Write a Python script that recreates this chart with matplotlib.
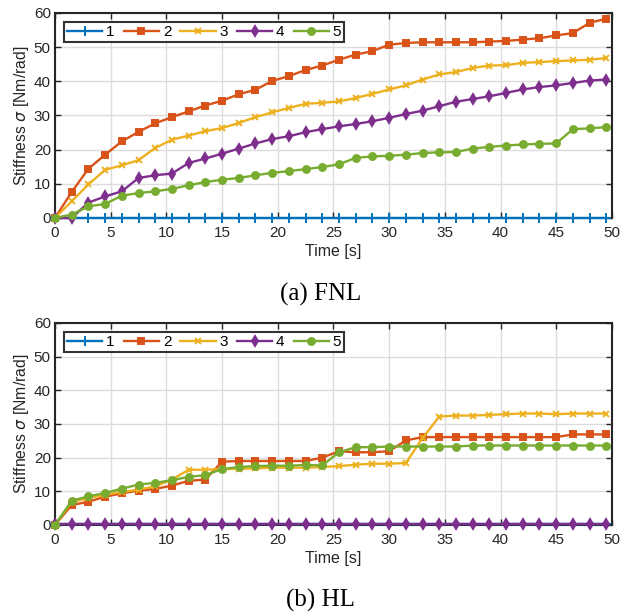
import numpy as np
import matplotlib.pyplot as plt

# --- data ---
time_s = [0, 1.5, 3, 4.5, 6, 7.5, 9, 10.5, 12, 13.5, 15, 16.5, 18, 19.5, 21, 22.5,
          24, 25.5, 27, 28.5, 30, 31.5, 33, 34.5, 36, 37.5, 39, 40.5, 42, 43.5, 45,
          46.5, 48, 49.5]

# (a) FNL
fnl_1 = [0.0] * 34
fnl_2 = [0, 7.6, 14.4, 18.5, 22.4, 25.2, 27.7, 29.5, 31.2, 32.9, 34.3, 36.2, 37.5,
         40.1, 41.5, 43.3, 44.6, 46.3, 47.8, 48.8, 50.7, 51.2, 51.4, 51.4, 51.4,
         51.4, 51.6, 51.8, 52.2, 52.6, 53.4, 54.1, 57.1, 58.3]
fnl_3 = [0, 4.9, 9.8, 14.1, 15.4, 16.9, 20.5, 22.9, 24.1, 25.4, 26.3, 27.8, 29.5,
         30.9, 32.2, 33.4, 33.7, 34.1, 35.1, 36.3, 37.6, 38.8, 40.5, 42.0, 42.7,
         43.9, 44.6, 44.7, 45.4, 45.6, 45.9, 46.1, 46.3, 46.8]
fnl_4 = [0, 0, 4.5, 6.3, 7.8, 11.7, 12.5, 13.0, 16.1, 17.4, 18.8, 20.3, 21.8, 23.1,
         23.9, 25.1, 26.0, 26.8, 27.5, 28.3, 29.3, 30.4, 31.4, 32.7, 34.0, 34.8,
         35.6, 36.6, 37.6, 38.3, 38.8, 39.5, 40.2, 40.5]
fnl_5 = [0, 1.0, 3.4, 4.1, 6.5, 7.3, 7.8, 8.5, 9.6, 10.5, 11.2, 11.7, 12.5, 13.2,
         13.7, 14.3, 14.9, 15.7, 17.6, 18.0, 18.2, 18.5, 19.0, 19.2, 19.3, 20.3,
         20.8, 21.2, 21.5, 21.7, 21.8, 26.0, 26.2, 26.6]

# (b) HL
hl_1 = [0.2] * 34
hl_2 = [0, 5.9, 6.9, 8.4, 9.4, 10.2, 10.7, 11.7, 13.1, 13.5, 18.8, 19.0, 19.0, 19.0,
        19.0, 19.0, 20.0, 21.9, 21.6, 21.6, 21.9, 25.1, 26.1, 26.1, 26.1, 26.1,
        26.1, 26.1, 26.1, 26.1, 26.1, 26.9, 26.9, 26.9]
hl_3 = [0, 6.8, 8.0, 9.0, 9.8, 10.5, 11.5, 13.5, 16.4, 16.4, 16.6, 16.7, 16.8, 17.0,
        17.0, 17.0, 17.2, 17.5, 17.9, 18.2, 18.2, 18.4, 25.8, 32.2, 32.5, 32.5,
        32.7, 32.9, 33.1, 33.1, 32.9, 33.1, 33.1, 33.1]
hl_4 = [0.2] * 34
hl_5 = [0, 7.2, 8.5, 9.5, 10.8, 12.0, 12.5, 13.3, 14.3, 14.8, 16.6, 17.2, 17.5,
        17.6, 17.6, 17.8, 17.7, 21.6, 23.1, 23.1, 23.3, 23.3, 23.3, 23.3, 23.3,
        23.6, 23.6, 23.6, 23.6, 23.6, 23.6, 23.6, 23.6, 23.6]

labels = ['1', '2', '3', '4', '5']
colors = ['#0072BD', '#D95319', '#EDB120', '#7E2F8E', '#77AC30']
markers = ['+', 's', 'x', 'd', 'o']
msizes = [7, 5, 5, 5.5, 5]

plt.rcParams['font.family'] = ['Liberation Sans', 'DejaVu Sans']
plt.rcParams['mathtext.fontset'] = 'dejavusans'

fig = plt.figure(figsize=(6.35, 6.14), dpi=100)
ax_a = fig.add_axes([0.0866, 0.645, 0.877, 0.334])
ax_b = fig.add_axes([0.0866, 0.145, 0.877, 0.329])


def draw_panel(ax, series):
    for y, lab, c, m, ms in zip(series, labels, colors, markers, msizes):
        ax.plot(time_s, y, color=c, marker=m, markersize=ms, markeredgewidth=1.4,
                linewidth=1.7, label=lab, clip_on=False, zorder=3)
    ax.set_xlim(0, 50)
    ax.set_ylim(0, 60)
    ax.set_xticks(np.arange(0, 51, 5))
    ax.set_yticks(np.arange(0, 61, 10))
    ax.grid(True, color='#dcdcdc', linewidth=1.0)
    ax.set_axisbelow(True)
    ax.tick_params(direction='in', top=True, right=True, labelsize=11,
                   colors='#262626', length=4, width=1.0)
    ax.tick_params(axis='x', pad=6)
    ax.tick_params(axis='y', pad=3)
    for s in ax.spines.values():
        s.set_color('#262626')
        s.set_linewidth(1.5)
    ax.set_xlabel('Time [s]', fontsize=11.5, color='#262626', labelpad=3)
    ax.set_ylabel(r'Stiffness $\sigma$ [Nm/rad]', fontsize=11.3, color='#262626',
                  labelpad=2)
    leg = ax.legend(loc='upper left', ncol=5, fontsize=11, frameon=True, fancybox=False,
                    handlelength=2.3, handletextpad=0.25, columnspacing=0.6,
                    borderpad=0.2, borderaxespad=0.6)
    leg.get_frame().set_edgecolor('black')
    leg.get_frame().set_linewidth(1.5)
    leg.set_zorder(5)


draw_panel(ax_a, [fnl_1, fnl_2, fnl_3, fnl_4, fnl_5])
draw_panel(ax_b, [hl_1, hl_2, hl_3, hl_4, hl_5])

fig.text(0.505, 0.52, '(a) FNL', ha='center', va='center', fontsize=18,
         family='Liberation Serif')
fig.text(0.505, 0.022, '(b) HL', ha='center', va='center', fontsize=18,
         family='Liberation Serif')

fig.savefig('out.png', dpi=100)
